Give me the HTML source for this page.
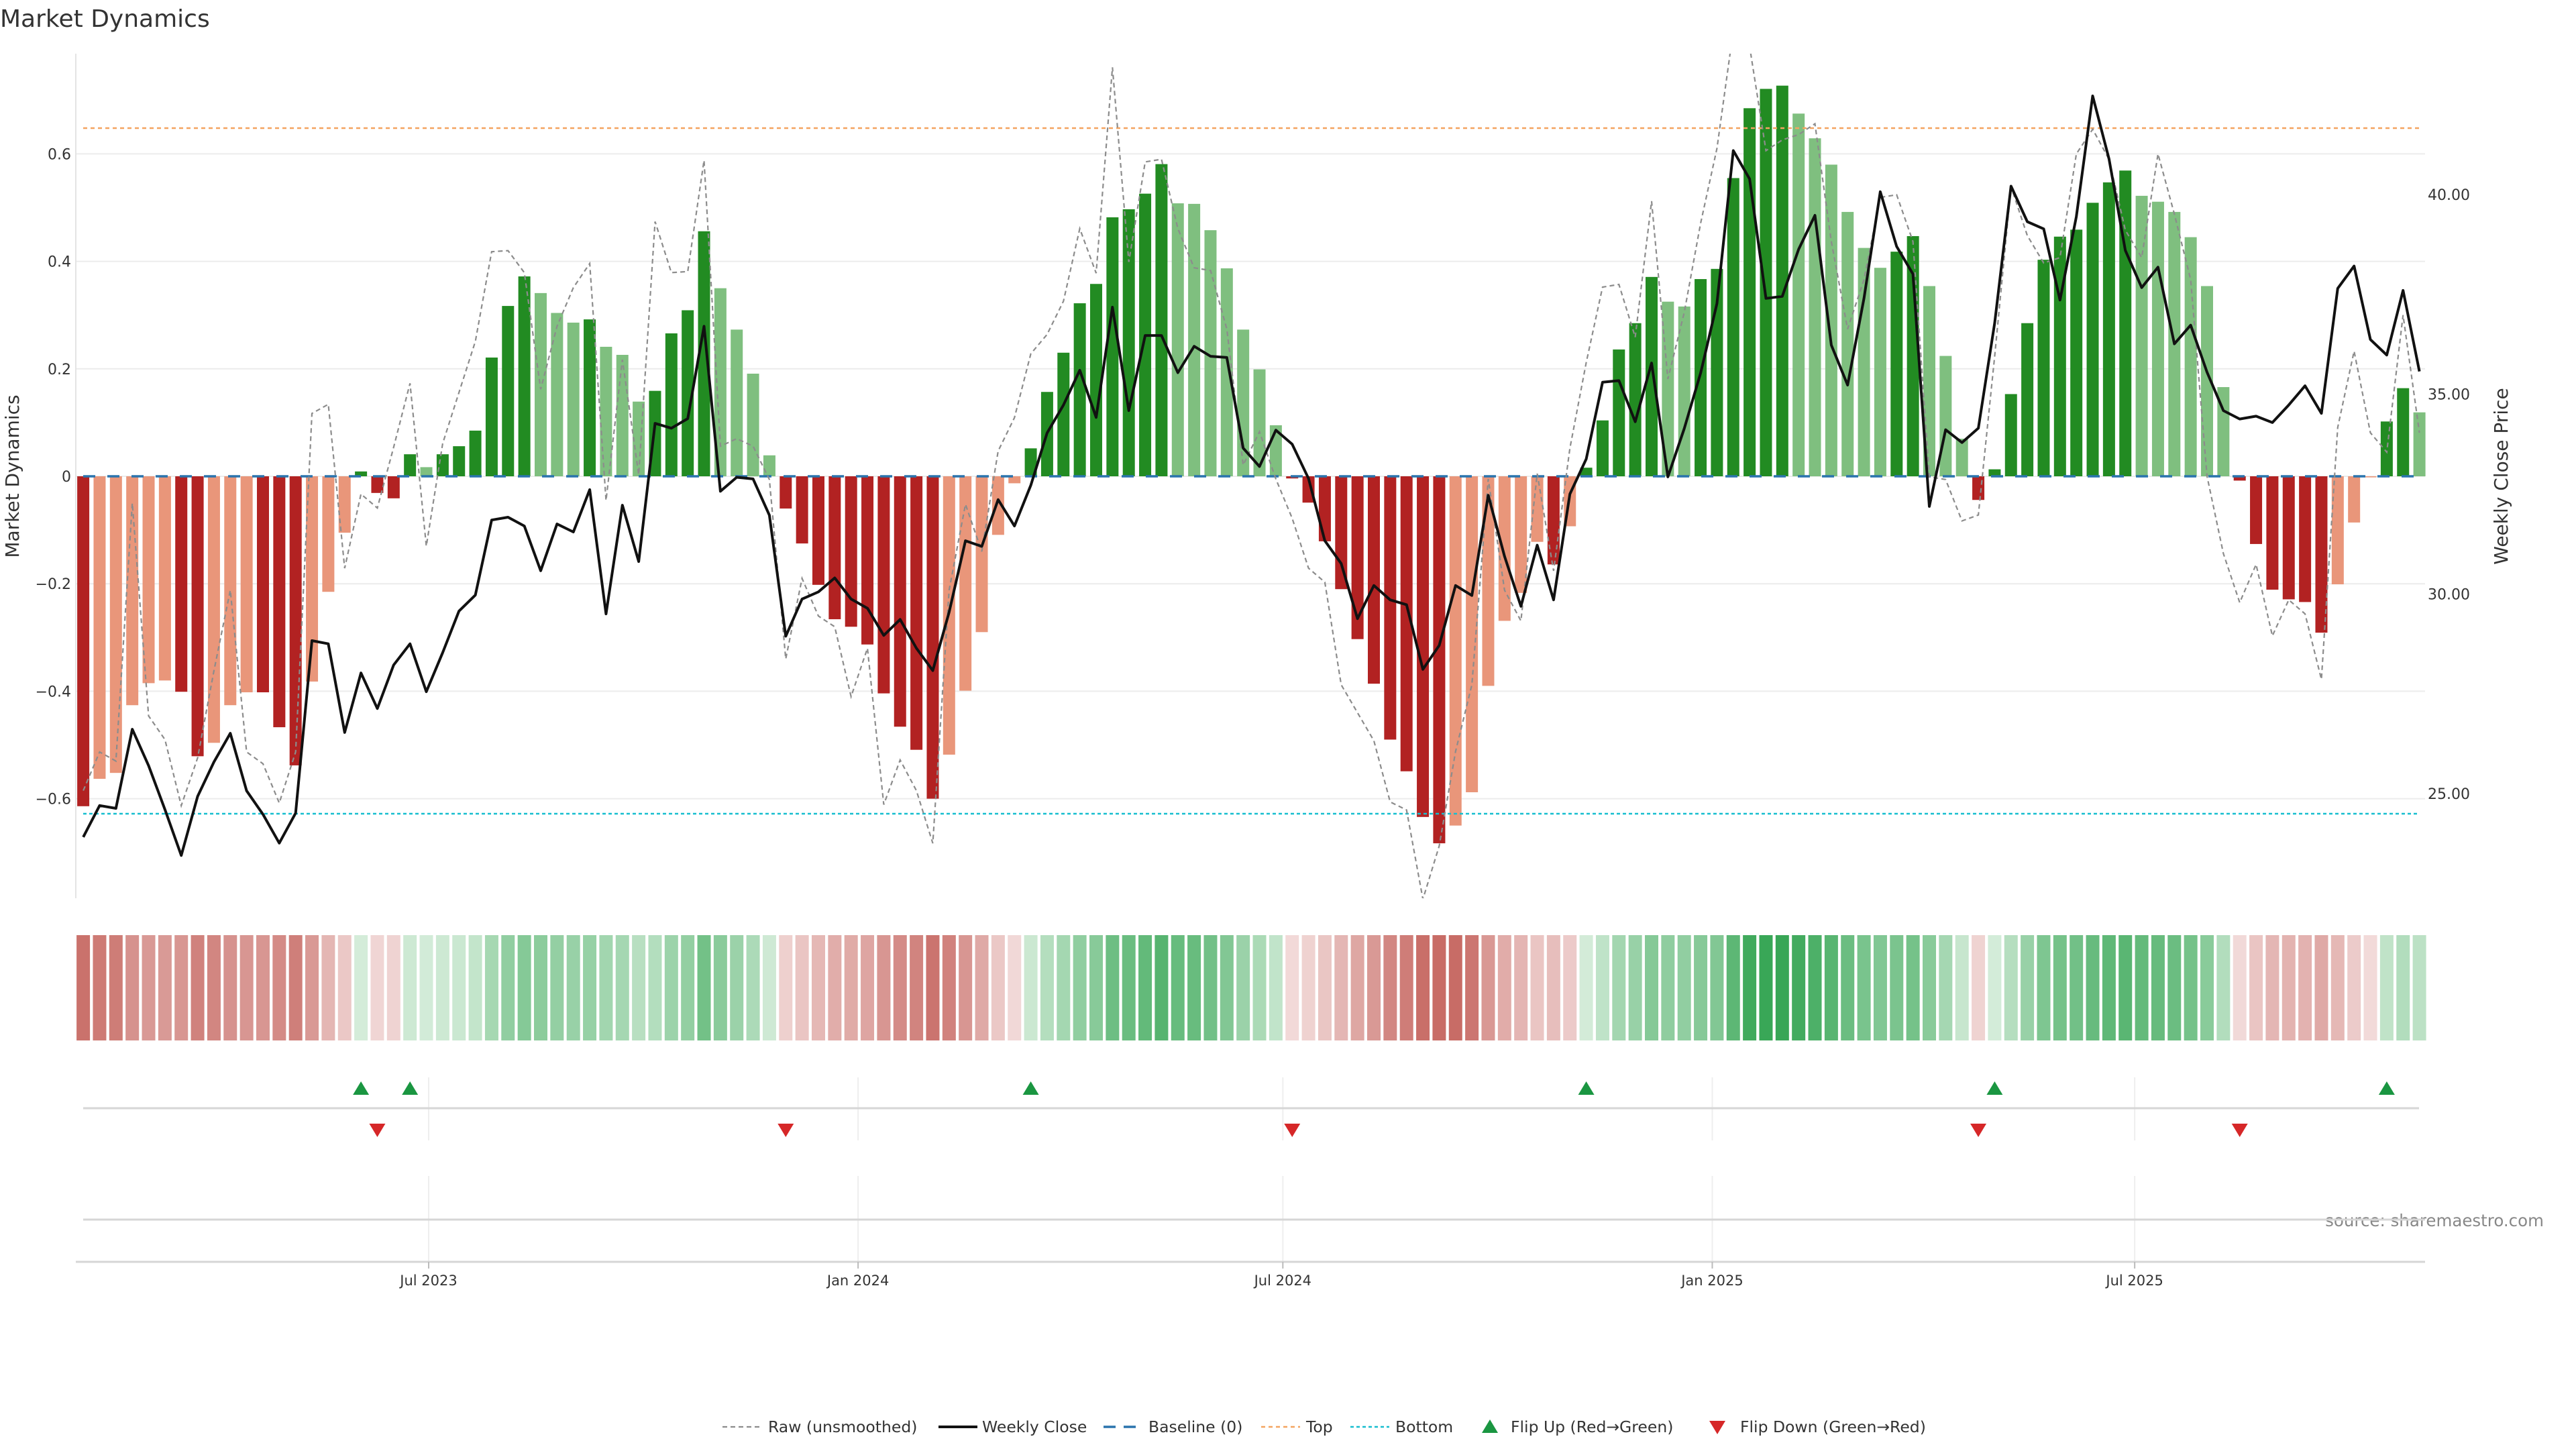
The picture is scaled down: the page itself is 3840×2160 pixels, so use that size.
<!DOCTYPE html>
<html><head><meta charset="utf-8"><title>Market Dynamics</title>
<style>
html,body{margin:0;padding:0;background:#fff;}
svg{display:block;font-family:"DejaVu Sans","Liberation Sans",sans-serif;}
</style></head>
<body>
<svg id="chart" width="3840" height="2160" viewBox="0 0 3840 2160" xmlns="http://www.w3.org/2000/svg">
<defs><clipPath id="plotclip"><rect x="113" y="80" width="3502" height="1259"/></clipPath></defs>
<text x="0" y="40" font-size="36" fill="#333">Market Dynamics</text>
<text transform="translate(28,710) rotate(-90)" text-anchor="middle" font-size="28" fill="#333">Market Dynamics</text>
<text transform="translate(3738,710) rotate(-90)" text-anchor="middle" font-size="28" fill="#333">Weekly Close Price</text>
<text x="3792" y="1828" text-anchor="end" font-size="24.5" fill="#888">source: sharemaestro.com</text>
<g id="grid"></g>
<g id="bars"></g>
<g id="lines" clip-path="url(#plotclip)"></g>
<g id="heat"></g>
<g id="flips"></g>
<g id="xaxis"></g>
<g id="legend"></g>
</svg>
<script>
const startDate = "2023-02-03";
const mdValues = [-0.614,-0.563,-0.552,-0.426,-0.385,-0.380,-0.401,-0.521,-0.496,-0.426,-0.402,-0.402,-0.467,-0.538,-0.382,-0.215,-0.105,0.009,-0.031,-0.041,0.041,0.017,0.041,0.056,0.085,0.221,0.317,0.372,0.341,0.304,0.286,0.292,0.241,0.226,0.139,0.159,0.266,0.309,0.456,0.350,0.273,0.191,0.039,-0.060,-0.125,-0.202,-0.266,-0.280,-0.313,-0.404,-0.466,-0.509,-0.600,-0.518,-0.399,-0.290,-0.109,-0.013,0.052,0.157,0.230,0.322,0.358,0.482,0.497,0.526,0.581,0.508,0.507,0.458,0.387,0.273,0.199,0.095,-0.004,-0.049,-0.121,-0.210,-0.303,-0.386,-0.490,-0.549,-0.634,-0.683,-0.650,-0.588,-0.390,-0.269,-0.217,-0.122,-0.164,-0.093,0.016,0.104,0.236,0.285,0.371,0.325,0.316,0.367,0.386,0.555,0.685,0.721,0.727,0.675,0.629,0.580,0.492,0.425,0.388,0.418,0.447,0.354,0.224,0.070,-0.044,0.013,0.153,0.285,0.403,0.446,0.459,0.509,0.547,0.569,0.522,0.511,0.492,0.445,0.354,0.166,-0.008,-0.126,-0.211,-0.229,-0.234,-0.291,-0.201,-0.086,-0.002,0.102,0.164,0.119];
const rawValues = [-0.585,-0.513,-0.530,-0.05,-0.446,-0.49,-0.613,-0.524,-0.362,-0.212,-0.513,-0.535,-0.608,-0.513,0.117,0.134,-0.171,-0.033,-0.059,0.054,0.173,-0.130,0.061,0.156,0.251,0.418,0.420,0.379,0.162,0.279,0.351,0.396,-0.045,0.217,0.003,0.474,0.379,0.381,0.588,0.056,0.070,0.056,-0.006,-0.340,-0.190,-0.26,-0.28,-0.41,-0.32,-0.611,-0.528,-0.585,-0.683,-0.212,-0.052,-0.140,0.047,0.109,0.228,0.264,0.326,0.461,0.378,0.761,0.399,0.585,0.590,0.461,0.388,0.383,0.274,0.021,0.083,-0.005,-0.078,-0.171,-0.197,-0.388,-0.440,-0.492,-0.606,-0.621,-0.787,-0.688,-0.512,-0.388,-0.005,-0.212,-0.269,0.005,-0.176,0.052,0.212,0.352,0.357,0.259,0.512,0.181,0.305,0.471,0.61,0.83,0.80,0.606,0.626,0.636,0.656,0.437,0.274,0.366,0.519,0.524,0.437,-0.001,-0.006,-0.083,-0.072,0.223,0.539,0.448,0.397,0.407,0.600,0.646,0.590,0.458,0.407,0.600,0.488,0.366,0.0,-0.144,-0.235,-0.164,-0.297,-0.230,-0.256,-0.378,0.091,0.233,0.081,0.045,0.300,0.081];
const closeValues = [23.91,24.70,24.63,26.61,25.70,24.60,23.45,24.93,25.79,26.51,25.07,24.48,23.76,24.51,28.83,28.75,26.53,28.02,27.13,28.22,28.75,27.55,28.53,29.57,29.97,31.85,31.92,31.70,30.58,31.75,31.55,32.61,29.50,32.22,30.81,34.27,34.15,34.39,36.70,32.57,32.92,32.88,31.97,28.94,29.87,30.05,30.40,29.87,29.64,28.96,29.36,28.64,28.08,29.54,31.33,31.19,32.36,31.70,32.72,34.03,34.73,35.60,34.42,37.18,34.59,36.47,36.47,35.54,36.20,35.95,35.92,33.65,33.19,34.10,33.75,32.89,31.33,30.76,29.38,30.21,29.85,29.73,28.11,28.71,30.21,29.96,32.47,30.94,29.69,31.22,29.85,32.50,33.38,35.30,35.34,34.31,35.78,32.93,34.14,35.53,37.27,41.10,40.39,37.40,37.45,38.63,39.48,36.23,35.23,37.40,40.07,38.70,38.01,32.19,34.11,33.79,34.15,36.78,40.21,39.32,39.14,37.36,39.45,42.47,40.89,38.60,37.67,38.18,36.26,36.73,35.55,34.59,34.38,34.45,34.29,34.73,35.21,34.52,37.65,38.21,36.37,35.98,37.60,35.57];
const mdTicks = [0.6,0.4,0.2,0,-0.2,-0.4,-0.6];
const mdTickLabels = ["0.6","0.4","0.2","0","\u22120.2","\u22120.4","\u22120.6"];
const priceTicks = [40,35,30,25];
const priceTickLabels = ["40.00","35.00","30.00","25.00"];
const dateTicks = ["2023-07-01","2024-01-01","2024-07-01","2025-01-01","2025-07-01"];
const dateTickLabels = ["Jul 2023","Jan 2024","Jul 2024","Jan 2025","Jul 2025"];
const topLevel = 0.648;
const bottomLevel = -0.628;

const NS = "http://www.w3.org/2000/svg";
const L = 113, R = 3615, T = 80, B = 1339;
const DAY = 86400000;
const refT = Date.parse("2023-07-01");
function xDate(s){ return 639 + (Date.parse(s) - refT)/DAY*3.479; }
const startT = Date.parse(startDate);
function xIdx(i){ return 639 + (startT + i*7*DAY - refT)/DAY*3.479; }
function yMd(v){ return 710 - v*801; }
function yPrice(p){ return 290 + (40-p)*59.53; }
function mk(tag, attrs, parent){ const e=document.createElementNS(NS,tag); for(const k in attrs) e.setAttribute(k,attrs[k]); parent.appendChild(e); return e; }

const grid=document.getElementById('grid');
mdTicks.forEach((t,k)=>{
  const ln=mk('line',{x1:L,x2:R,y1:yMd(t),y2:yMd(t),stroke:'#ececec','stroke-width':2},grid);
  
  
  const tx=mk('text',{x:106,y:yMd(t)+8,'text-anchor':'end','font-size':22,fill:'#333'},grid);
  tx.textContent=mdTickLabels[k];
  
  
});
priceTicks.forEach((p,k)=>{
  const tx=mk('text',{x:3619,y:yPrice(p)+8,'font-size':22,fill:'#333'},grid);
  tx.textContent=priceTickLabels[k];
  
  
});
const ax=mk('line',{x1:L,x2:L,y1:T,y2:B,stroke:'#e4e4e4','stroke-width':2},grid);



const bars=document.getElementById('bars');
mdValues.forEach((v,i)=>{
  const prev = i>0 ? mdValues[i-1] : 0;
  const strong = (i===0) || (Math.sign(v)!==Math.sign(prev)) || Math.abs(v)>=Math.abs(prev);
  const col = v>=0 ? (strong?'#228b22':'#7fbf7f') : (strong?'#b22222':'#e9967a');
  const y0=yMd(0), y1=yMd(v);
  const r=mk('rect',{x:xIdx(i)-9,y:Math.min(y0,y1),width:18,height:Math.max(Math.abs(y1-y0),0.5),fill:col},bars);
  
  
});

const lines=document.getElementById('lines');
const bl=mk('line',{x1:124,x2:3606,y1:yMd(0),y2:yMd(0),stroke:'#2a74ad','stroke-width':3.5,'stroke-dasharray':'18 18'},lines);


const tl=mk('line',{x1:124,x2:3606,y1:yMd(topLevel),y2:yMd(topLevel),stroke:'#f4a460','stroke-width':2.5,'stroke-dasharray':'6 5'},lines);


const bt=mk('line',{x1:124,x2:3606,y1:yMd(bottomLevel),y2:yMd(bottomLevel),stroke:'#17becf','stroke-width':2.5,'stroke-dasharray':'5 4'},lines);



const rawPts=rawValues.map((v,i)=>xIdx(i).toFixed(1)+','+yMd(v).toFixed(1)).join(' ');
const rp=mk('polyline',{points:rawPts,fill:'none',stroke:'#8c8c8c','stroke-width':2.2,'stroke-dasharray':'7 5'},lines);


const clPts=closeValues.map((p,i)=>xIdx(i).toFixed(1)+','+yPrice(p).toFixed(1)).join(' ');
const cp=mk('polyline',{points:clPts,fill:'none',stroke:'#111','stroke-width':4,'stroke-linejoin':'round'},lines);



const heat=document.getElementById('heat');
function mix(a,b,t){ return 'rgb('+a.map((c,k)=>Math.round(c+(b[k]-c)*t)).join(',')+')'; }
mdValues.forEach((v,i)=>{
  let col;
  if(v>=0){ col=mix([214,237,219],[55,166,85],Math.min(v/0.73,1)); }
  else { col=mix([242,218,217],[200,108,102],Math.min(-v/0.65,1)); }
  const r=mk('rect',{x:xIdx(i)-10,y:1394,width:20,height:157,fill:col},heat);
  
  
});

const flips=document.getElementById('flips');
dateTicks.forEach(d=>{
  const g1=mk('line',{x1:xDate(d),x2:xDate(d),y1:1606,y2:1700,stroke:'#eeeeee','stroke-width':2},flips);
  
  
  const g2=mk('line',{x1:xDate(d),x2:xDate(d),y1:1753,y2:1881,stroke:'#eeeeee','stroke-width':2},flips);
  
  
});
const fl=mk('line',{x1:124,x2:3606,y1:1652,y2:1652,stroke:'#d6d6d6','stroke-width':3},flips);


const ll=mk('line',{x1:124,x2:3615,y1:1818,y2:1818,stroke:'#d6d6d6','stroke-width':3},flips);


for(let i=1;i<mdValues.length;i++){
  const a=mdValues[i-1], b=mdValues[i];
  const x=xIdx(i);
  if(a<0 && b>=0){
    const t=mk('polygon',{points:(x-12)+',1632 '+(x+12)+',1632 '+x+',1612',fill:'#1a9641'},flips);
    
    
  } else if(a>=0 && b<0){
    const t=mk('polygon',{points:(x-12)+',1675 '+(x+12)+',1675 '+x+',1695',fill:'#d62728'},flips);
    
    
  }
}

const xa=document.getElementById('xaxis');
const xl=mk('line',{x1:113,x2:3615,y1:1881,y2:1881,stroke:'#d6d6d6','stroke-width':3},xa);


dateTicks.forEach((d,k)=>{
  const tk=mk('line',{x1:xDate(d),x2:xDate(d),y1:1881,y2:1891,stroke:'#bbb','stroke-width':2},xa);
  
  
  const tx=mk('text',{x:xDate(d),y:1916,'text-anchor':'middle','font-size':21,fill:'#333'},xa);
  tx.textContent=dateTickLabels[k];
  
  
});

const lg=document.getElementById('legend');
const LY=2127;
function legText(x,s){ const t=mk('text',{x:x,y:LY+8,'font-size':23.5,fill:'#333'},lg); t.textContent=s;   }
function legLine(x,stroke,w,dash){ const l=mk('line',{x1:x,x2:x+58,y1:LY,y2:LY,stroke:stroke,'stroke-width':w,'stroke-dasharray':dash},lg);   }
legLine(1077,'#8c8c8c',2.2,'7 5'); legText(1145,'Raw (unsmoothed)');
legLine(1399,'#111',4,'none'); legText(1464,'Weekly Close');
legLine(1645,'#2a74ad',3.5,'18 12'); legText(1712,'Baseline (0)');
legLine(1880,'#f4a460',2.5,'6 5'); legText(1947,'Top');
legLine(2013,'#17becf',2.5,'5 4'); legText(2080,'Bottom');
const u=mk('polygon',{points:'2209,2136 2233,2136 2221,2116',fill:'#1a9641'},lg);


legText(2252,'Flip Up (Red\u2192Green)');
const dn=mk('polygon',{points:'2548,2118 2572,2118 2560,2138',fill:'#d62728'},lg);


legText(2594,'Flip Down (Green\u2192Red)');
</script>
</body></html>
